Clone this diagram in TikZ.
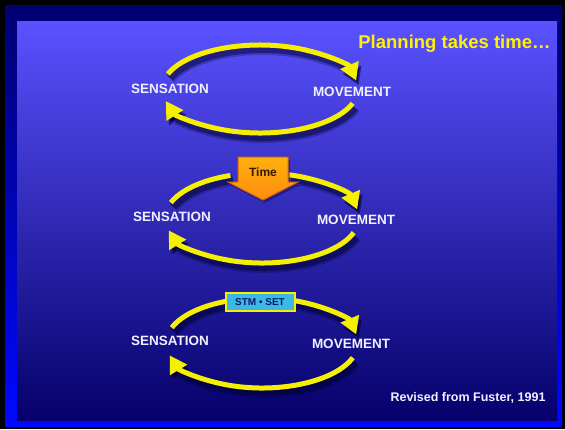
\documentclass[tikz,border=0pt]{standalone}
\usepackage{fontspec}
\setmainfont{Liberation Sans}
\usetikzlibrary{arrows.meta}

\definecolor{framedark}{HTML}{000070}
\definecolor{framebright}{HTML}{0008FF}
\definecolor{paneltop}{HTML}{5A52FF}
\definecolor{panelbottom}{HTML}{05006A}
\definecolor{loopyellow}{HTML}{F4F000}
\definecolor{timeorange}{HTML}{FF9C12}
\definecolor{timeedge}{HTML}{D86A00}
\definecolor{stmcyan}{HTML}{3CB8E8}
\definecolor{stmtext}{HTML}{0A1A60}
\definecolor{shadowblue}{HTML}{000030}

\tikzset{
  arcshadow/.style={
    preaction={draw=shadowblue, draw opacity=.25, line width=11pt,
      transform canvas={shift={(2.5pt,-4.5pt)}}},
    preaction={draw=shadowblue, draw opacity=.45, line width=7pt,
      transform canvas={shift={(2.5pt,-4.5pt)}}}},
  looparc/.style={draw=loopyellow, line width=5pt,
    -{Triangle[width=19pt,length=17pt]}, arcshadow},
  plainarc/.style={draw=loopyellow, line width=5pt, arcshadow},
  label/.style={text=white!94!blue, font=\bfseries\fontsize{13.5}{14}\selectfont,
    inner sep=0pt},
  titletext/.style={text=yellow, font=\bfseries\fontsize{18.5}{20}\selectfont,
    inner sep=0pt},
  credit/.style={text=white!94!blue, font=\bfseries\fontsize{12.5}{14}\selectfont,
    inner sep=0pt},
}

\begin{document}
\begin{tikzpicture}[x=1pt, y=-1pt]
  \useasboundingbox (0,0) rectangle (565,429);

  % frame and panel
  \fill[black] (0,0) rectangle (565,429);
  \shade[top color=framedark, bottom color=framebright] (5,5) rectangle (562,426);
  \shade[top color=paneltop, bottom color=panelbottom] (17,21) rectangle (557,420);

  % title and credit
  \node[titletext] (title) at (454.5,44) {Planning takes time…};
  \node[credit] (credit) at (468,398) {Revised from Fuster, 1991};

  % loop 1
  \coordinate (c1) at (260,89);
  \path (c1) ++(160:98pt and 44pt) coordinate (s1top);
  \path (c1) ++(-19:98pt and 44pt) coordinate (m1bot);
  \draw[looparc] (s1top) arc[start angle=160, end angle=11, x radius=98pt, y radius=44pt];
  \draw[looparc] (m1bot) arc[start angle=-19, end angle=-164, x radius=98pt, y radius=44pt];
  \node[label] (sens1) at (170,89) {SENSATION};
  \node[label] (move1) at (352,92) {MOVEMENT};

  % loop 2, interrupted by the time arrow
  \coordinate (c2) at (262,218);
  \path (c2) ++(160:97pt and 45pt) coordinate (s2top);
  \path (c2) ++(74:97pt and 45pt) coordinate (t2right);
  \path (c2) ++(-19:97pt and 45pt) coordinate (m2bot);
  \draw[plainarc] (s2top) arc[start angle=160, end angle=109, x radius=97pt, y radius=45pt];
  \draw[looparc] (t2right) arc[start angle=74, end angle=11, x radius=97pt, y radius=45pt];
  \draw[looparc] (m2bot) arc[start angle=-19, end angle=-164, x radius=97pt, y radius=45pt];
  \node[label] (sens2) at (172,217) {SENSATION};
  \node[label] (move2) at (356,220) {MOVEMENT};

  % time arrow
  \fill[shadowblue, opacity=.35] (240,160) -- (290,160) -- (290,185) -- (300,185)
    -- (265,203) -- (230,185) -- (240,185) -- cycle;
  \draw[timeedge, line width=1pt, top color=timeorange!80!yellow, bottom color=timeorange!90!red]
    (238,157) -- (288,157) -- (288,182) -- (298,182) -- (263,200)
    -- (228,182) -- (238,182) -- cycle;
  \node[text=black!80!orange, font=\bfseries\fontsize{12}{13}\selectfont,
    inner sep=0pt] (time) at (263,172) {Time};

  % loop 3
  \coordinate (c3) at (262,343);
  \path (c3) ++(160:96pt and 45pt) coordinate (s3top);
  \path (c3) ++(-19:96pt and 45pt) coordinate (m3bot);
  \draw[looparc] (s3top) arc[start angle=160, end angle=11, x radius=96pt, y radius=45pt];
  \draw[looparc] (m3bot) arc[start angle=-19, end angle=-164, x radius=96pt, y radius=45pt];
  \node[label] (sens3) at (170,341) {SENSATION};
  \node[label] (move3) at (351,344) {MOVEMENT};

  % STM-SET tag on loop 3
  \node[draw=loopyellow, line width=2pt, fill=stmcyan, minimum width=69pt,
    minimum height=18pt, inner sep=0pt, text=stmtext,
    font=\bfseries\fontsize{10}{11}\selectfont] (stm) at (260,302) {STM • SET};
\end{tikzpicture}
\end{document}
